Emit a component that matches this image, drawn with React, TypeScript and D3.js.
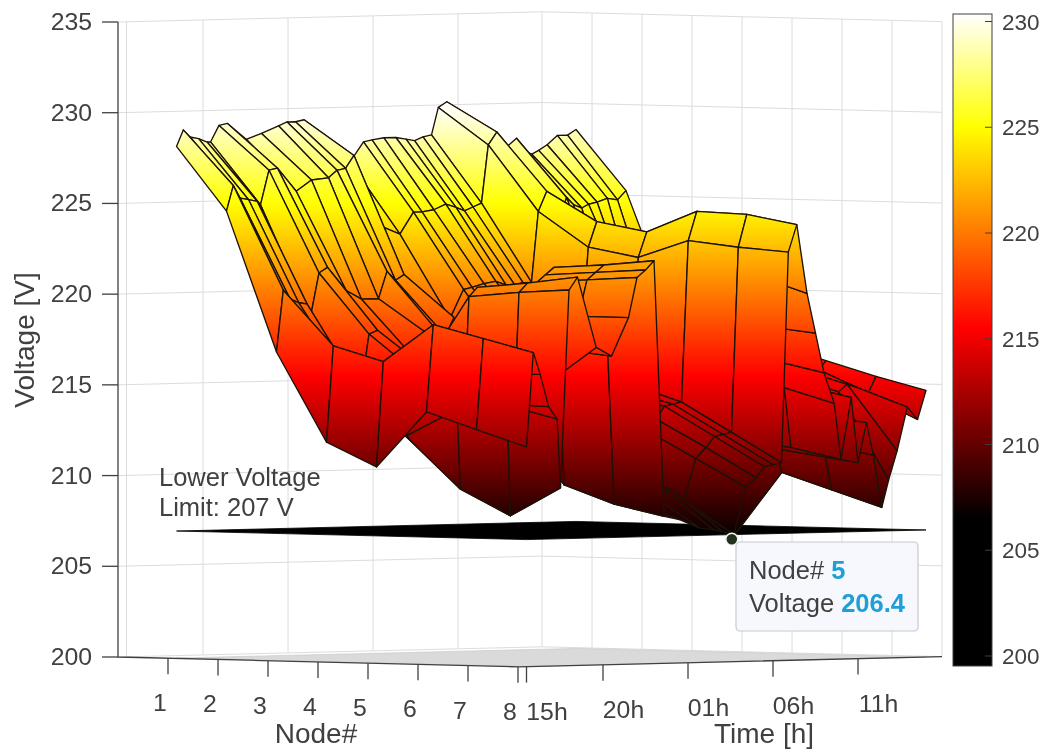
import React from "react"
import * as d3 from "d3"

const nodes = [1, 2, 3, 4, 5, 6, 7, 8]
const nodeTicks = [1, 2, 3, 4, 5, 6, 7, 8]
const voltTicks = [200, 205, 210, 215, 220, 225, 230, 235]
const barTicks = [200, 205, 210, 215, 220, 225, 230]
const timeTickHours = [0.5, 5, 10, 15, 20]
const timeTickLabels = ["15h", "20h", "01h", "06h", "11h"]

// sample times, hours after the start of the plot
const hours = [
  0.5, 0.9, 1.3, 1.8, 2.3, 2.5, 3, 3.5, 4.6, 5.5, 6.5, 7, 7.5, 8, 8.6, 9.5, 10.7, 11.5, 12, 12.7, 13.4, 14,
  14.5, 15, 15.5, 15.9, 16.4, 17, 17.5, 18, 18.6, 19, 19.6, 20, 20.5, 20.9, 21.4, 21.8, 22.3, 22.9, 23.5, 24,
]

// one row per sample time, one column per node
const voltage = [
  [228.2, 224.7, 217.0, 212.1, 210.8, 213.9, 213.0, 212.1],
  [229.1, 226.1, 220.4, 217.4, 216.6, 218.7, 218.0, 217.3],
  [228.7, 225.4, 219.9, 216.1, 213.9, 216.2, 216.0, 216.1],
  [228.6, 225.3, 219.7, 215.5, 213.1, 214.4, 214.4, 214.3],
  [228.4, 225.2, 219.6, 215.2, 212.5, 214.0, 214.3, 213.6],
  [228.4, 225.0, 218.9, 214.7, 212.2, 209.6, 208.2, 209.8],
  [229.3, 226.9, 221.3, 218.0, 215.8, 220.2, 220.5, 220.7],
  [229.4, 227.0, 221.6, 218.2, 216.1, 220.7, 221.0, 221.4],
  [228.5, 225.7, 220.3, 216.3, 214.7, 214.5, 215.4, 217.5],
  [228.8, 226.3, 219.8, 216.8, 215.2, 214.7, 217.3, 217.0],
  [229.2, 226.4, 219.8, 217.9, 216.0, 218.3, 219.1, 219.1],
  [229.4, 226.8, 221.3, 218.1, 216.5, 220.9, 221.1, 221.3],
  [229.4, 226.9, 220.8, 217.8, 216.8, 221.3, 221.5, 221.7],
  [229.5, 227.6, 221.1, 218.8, 217.4, 221.7, 221.9, 222.2],
  [228.6, 224.9, 219.7, 215.9, 213.2, 209.7, 208.7, 208.1],
  [227.8, 223.7, 218.0, 215.0, 212.9, 210.1, 208.9, 207.9],
  [227.1, 223.2, 218.6, 215.8, 213.4, 210.5, 209.2, 207.4],
  [228.2, 224.4, 220.2, 216.4, 213.7, 210.5, 209.4, 207.3],
  [228.3, 224.4, 220.3, 216.9, 214.0, 210.4, 209.4, 207.2],
  [228.4, 224.5, 220.5, 217.2, 214.2, 210.4, 208.8, 207.0],
  [228.4, 224.8, 220.6, 216.9, 213.9, 212.6, 211.1, 209.6],
  [228.3, 224.6, 220.4, 216.9, 214.2, 213.2, 211.7, 210.1],
  [228.2, 224.4, 220.4, 217.1, 214.4, 213.9, 212.3, 210.7],
  [228.4, 224.6, 220.5, 217.4, 214.7, 214.0, 212.4, 210.8],
  [228.5, 224.8, 220.5, 217.4, 215.0, 214.1, 212.5, 210.9],
  [230.0, 228.0, 224.4, 222.5, 222.0, 223.0, 222.7, 222.5],
  [230.3, 228.7, 225.5, 223.9, 223.4, 224.6, 224.5, 224.0],
  [227.6, 226.1, 222.8, 220.9, 220.2, 221.3, 221.1, 220.2],
  [226.8, 224.7, 221.4, 219.6, 218.5, 218.6, 218.3, 218.0],
  [226.5, 224.1, 220.0, 217.9, 216.8, 217.2, 216.4, 215.8],
  [226.5, 223.3, 217.8, 215.7, 214.9, 214.7, 214.9, 214.1],
  [226.8, 223.0, 217.0, 214.6, 212.4, 211.9, 211.6, 211.0],
  [227.6, 224.1, 218.9, 217.0, 215.7, 215.2, 215.0, 214.4],
  [227.8, 223.5, 216.7, 214.0, 212.4, 211.6, 211.2, 210.8],
  [228.2, 225.0, 218.0, 215.6, 214.6, 213.8, 213.3, 213.0],
  [227.5, 224.6, 216.9, 214.5, 212.9, 212.2, 211.7, 211.2],
  [227.3, 224.4, 213.9, 210.1, 206.4, 210.1, 209.2, 208.3],
  [227.5, 224.6, 218.3, 217.3, 216.2, 215.4, 214.6, 209.8],
  [227.8, 224.7, 216.9, 216.7, 216.2, 215.8, 215.0, 211.4],
  [228.3, 224.9, 215.3, 216.7, 216.5, 216.0, 214.8, 213.8],
  [228.3, 224.8, 216.3, 216.9, 216.7, 215.6, 214.4, 213.1],
  [228.6, 225.3, 218.1, 217.5, 217.0, 216.2, 215.4, 214.7],
]

const lowerLimit = 207
const tipNode = 5
const tipHour = 21.4
const tipVoltage = 206.4

// colormap anchors, top of the scale first
const mapVolts = [230.4, 225, 215.5, 206.5]
const mapColors = ["#ffffff", "#ffff00", "#ff0000", "#000000"]

const W = 1047
const H = 750
const font = "'Liberation Sans', Arial, sans-serif"
const ink = "#404040"

const maxHour = 24.94
const xNode = d3.scaleLinear().domain([0, 8]).range([0, 400])
const xHour = d3.scaleLinear().domain([0, maxHour]).range([0, 424])
const dyNode = d3.scaleLinear().domain([0, 8]).range([0, 9.8])
const dyHour = d3.scaleLinear().domain([0, maxHour]).range([0, -10.2])
const zScale = d3.scaleLinear().domain([200, 235]).range([657, 22])
const barScale = d3.scaleLinear().domain([200, 230]).range([656, 21.5])

// orthographic view of the 3-D axes
const project = (n: number, h: number, v: number): [number, number] => [
  118 + xNode(n) + xHour(h),
  zScale(v) + dyNode(n) + dyHour(h),
]

const line = d3.line().curve(d3.curveLinearClosed)
const open = d3.line()

function App() {
  const minH = hours[0]
  const lastH = hours[hours.length - 1]

  // far faces first so the near ones cover them
  const faces: { key: string; d: string | null }[] = []
  for (let t = hours.length - 2; t >= 0; t--) {
    for (let i = 0; i < nodes.length - 1; i++) {
      faces.push({
        key: t + "-" + i,
        d: line([
          project(nodes[i], hours[t], voltage[t][i]),
          project(nodes[i + 1], hours[t], voltage[t][i + 1]),
          project(nodes[i + 1], hours[t + 1], voltage[t + 1][i + 1]),
          project(nodes[i], hours[t + 1], voltage[t + 1][i]),
        ]),
      })
    }
  }

  const plane = (v: number) =>
    line([project(1, minH, v), project(8, minH, v), project(8, lastH, v), project(1, lastH, v)])

  const stopsFor = (offset: (v: number) => number) =>
    mapVolts.map((v, i) => <stop key={v} offset={offset(v)} stopColor={mapColors[i]} />)

  const surfTop = zScale(mapVolts[0])
  const surfBottom = zScale(mapVolts[3])
  const surfOffset = d3.scaleLinear().domain([mapVolts[0], mapVolts[3]]).range([0, 1])
  const barTop = 14
  const barBottom = 666
  const barOffset = (v: number) => (barScale(v) - barTop) / (barBottom - barTop)

  const [tipX, tipY] = project(tipNode, tipHour, tipVoltage)

  return (
    <svg
      width={W}
      height={H}
      style={{ position: "absolute", left: 0, top: 0, background: "#fff", filter: "blur(0.5px)" }}
      fontFamily={font}
    >
      <defs>
        <linearGradient id="surf" gradientUnits="userSpaceOnUse" x1={0} x2={0} y1={surfTop} y2={surfBottom}>
          {stopsFor(surfOffset)}
        </linearGradient>
        <linearGradient id="bar" x1={0} x2={0} y1={0} y2={1}>
          {stopsFor(barOffset)}
        </linearGradient>
      </defs>

      {/* back walls */}
      <g stroke="#dcdcdc" strokeWidth={1} fill="none">
        {voltTicks.map((v) => (
          <path
            key={v}
            d={open([project(0, 0, v), project(0, maxHour, v), project(8, maxHour, v)]) as string}
          />
        ))}
        {[...timeTickHours, maxHour].map((h) => (
          <path key={h} d={open([project(0, h, 200), project(0, h, 235)]) as string} />
        ))}
        {nodeTicks.map((n) => (
          <path key={n} d={open([project(n, maxHour, 200), project(n, maxHour, 235)]) as string} />
        ))}
      </g>

      {/* floor shadow and limit plane */}
      <path d={plane(200) as string} fill="#dadada" stroke="#c4c4c4" strokeWidth={0.6} />
      <path d={plane(lowerLimit) as string} fill="#000" stroke="#000" strokeWidth={0.8} />

      <g fill="url(#surf)" stroke="#1c1208" strokeWidth={1.35} strokeLinejoin="round">
        {faces.map((f) => (
          <path key={f.key} d={f.d as string} />
        ))}
      </g>

      {/* axes */}
      <g stroke={ink} strokeWidth={1.3} fill="none">
        <path d={open([project(0, 0, 235), project(0, 0, 200), project(8, 0, 200), project(8, maxHour, 200)]) as string} />
        {voltTicks.map((v) => (
          <line key={v} x1={102} x2={118} y1={zScale(v)} y2={zScale(v)} />
        ))}
        {nodeTicks.map((n) => {
          const [x, y] = project(n, 0, 200)
          return <line key={n} x1={x} x2={x} y1={y} y2={y + 16} />
        })}
        {timeTickHours.map((h) => {
          const [x, y] = project(8, h, 200)
          return <line key={h} x1={x} x2={x} y1={y} y2={y + 16} />
        })}
      </g>

      <g fill={ink} fontSize={24.8}>
        {voltTicks.map((v) => (
          <text key={v} x={92} y={zScale(v) + 8} textAnchor="end">
            {v}
          </text>
        ))}
        {nodeTicks.map((n) => {
          const [x, y] = project(n, 0, 200)
          return (
            <text key={n} x={x - 8} y={y + 53} textAnchor="middle">
              {n}
            </text>
          )
        })}
        {timeTickHours.map((h, i) => {
          const [x, y] = project(8, h, 200)
          return (
            <text key={h} x={x + 20.5} y={y + 53} textAnchor="middle">
              {timeTickLabels[i]}
            </text>
          )
        })}
        <text x={316} y={743} textAnchor="middle" fontSize={28}>
          Node#
        </text>
        <text x={764} y={743} textAnchor="middle" fontSize={28}>
          Time [h]
        </text>
        <text transform="translate(34,340) rotate(-90)" textAnchor="middle" fontSize={28}>
          Voltage [V]
        </text>
        <text x={159} y={486} fontSize={25.5}>
          Lower Voltage
        </text>
        <text x={159} y={516} fontSize={25.5}>
          Limit: 207 V
        </text>
      </g>

      {/* colorbar */}
      <rect x={953} y={barTop} width={39} height={barBottom - barTop} fill="url(#bar)" stroke={ink} strokeWidth={1} />
      <g stroke={ink} strokeWidth={1}>
        {barTicks.map((v) => (
          <line key={v} x1={985} x2={992} y1={barScale(v)} y2={barScale(v)} />
        ))}
      </g>
      <g fill={ink} fontSize={22.5}>
        {barTicks.map((v) => (
          <text key={v} x={1002} y={barScale(v) + 8}>
            {v}
          </text>
        ))}
      </g>

      {/* data tip */}
      <circle cx={tipX} cy={tipY + 1} r={6} fill="#22301f" stroke="#f4f4ea" strokeWidth={1.5} />
      <rect x={736} y={542} width={182} height={89} rx={4} fill="#f6f8fd" stroke="#c6cad2" strokeWidth={1.2} />
      <g fontSize={25.5}>
        <text x={749} y={579} fill={ink}>
          Node#{" "}
          <tspan fill="#1e9fd6" fontWeight="bold">
            {tipNode}
          </tspan>
        </text>
        <text x={749} y={612} fill={ink}>
          Voltage{" "}
          <tspan fill="#1e9fd6" fontWeight="bold">
            {tipVoltage}
          </tspan>
        </text>
      </g>
    </svg>
  )
}

export default App
